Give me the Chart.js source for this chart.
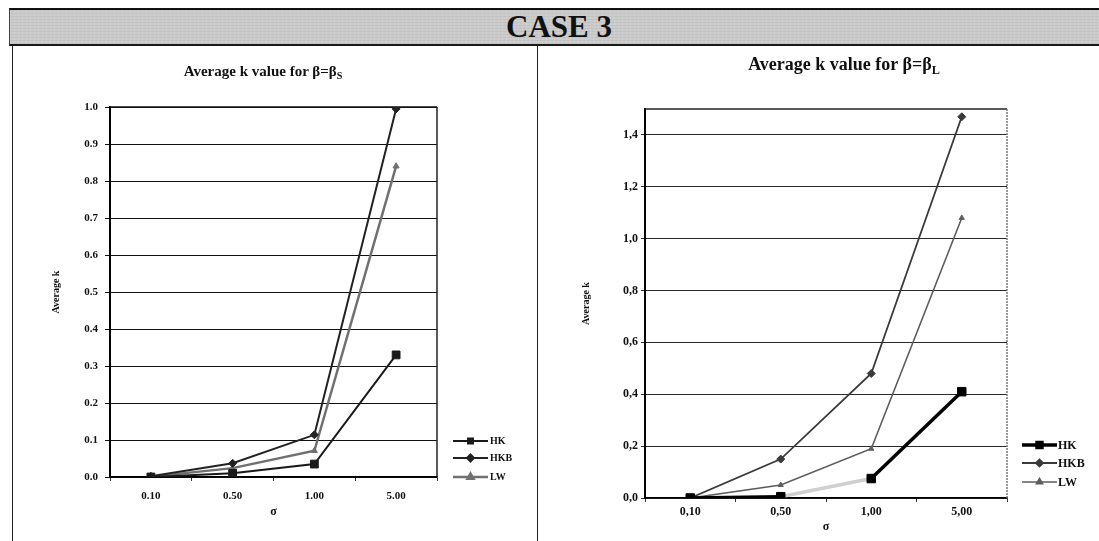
<!DOCTYPE html>
<html>
<head>
<meta charset="utf-8">
<script src="https://cdn.jsdelivr.net/npm/chart.js@4.4.1/dist/chart.umd.min.js"></script>
<style>
  html, body { margin: 0; padding: 0; background: #fff; }
  body { width: 1099px; height: 541px; position: relative; overflow: hidden;
         font-family: "Liberation Serif", "Times New Roman", serif; color: #111; }
  #band { position: absolute; left: 9px; top: 8px; width: 1090px; height: 34px;
          border-top: 2px solid #111; border-bottom: 2px solid #1a1a1a; border-left: 1px solid #444;
          background-color: #cbcbcb;
          background-image: repeating-linear-gradient(90deg, rgba(255,255,255,0.10) 0 1px, rgba(0,0,0,0) 1px 4px),
                            repeating-linear-gradient(0deg, rgba(0,0,0,0.05) 0 1px, rgba(0,0,0,0) 1px 3px); }
  #caseTitle { position: absolute; left: 359px; top: 10px; width: 400px; text-align: center;
               font-weight: bold; font-size: 31px; line-height: 34px; color: #111; }
  .panel { position: absolute; top: 46px; height: 495px; }
  #panelS { left: 12px; width: 524px; border-left: 1px solid #222; border-right: 1px solid #222; }
  #panelL { left: 538px; width: 561px; }
  .chartBox { position: absolute; left: 0; top: 0; width: 100%; height: 100%; }
  .ctitle { position: absolute; text-align: center; font-weight: bold; color: #111; white-space: nowrap; }
  .ctitle sub { font-size: 0.68em; vertical-align: -0.3em; line-height: 0; }
  #titleS { left: 63px; width: 400px; top: 62px; font-size: 15px; line-height: 18px; }
  #titleL { left: 644px; width: 400px; top: 54px; font-size: 18px; line-height: 21px; }
</style>
</head>
<body>
<div id="band"></div>
<div id="caseTitle">CASE 3</div>
<div class="panel" id="panelS"><div class="chartBox"><canvas id="chartS"></canvas></div></div>
<div class="panel" id="panelL"><div class="chartBox"><canvas id="chartL"></canvas></div></div>
<div class="ctitle" id="titleS">Average k value for β=β<sub>S</sub></div>
<div class="ctitle" id="titleL">Average k value for β=β<sub>L</sub></div>

<script>
// Noise levels (σ) on the category axis
const sigmaLabelsS = ['0.10', '0.50', '1.00', '5.00'];
const sigmaLabelsL = ['0,10', '0,50', '1,00', '5,00'];

// Series names
const seriesNames = ['HK', 'HKB', 'LW'];

// Average k for β = β_S
const hkS  = [0.000, 0.010, 0.035, 0.330];
const hkbS = [0.002, 0.037, 0.114, 0.995];
const lwS  = [0.001, 0.024, 0.071, 0.840];

// Average k for β = β_L
const hkL  = [0.000, 0.005, 0.075, 0.410];
const hkbL = [0.000, 0.150, 0.480, 1.470];
const lwL  = [0.000, 0.050, 0.190, 1.080];

// Value-axis tick labels
const yTicksS = ['0.0', '0.1', '0.2', '0.3', '0.4', '0.5', '0.6', '0.7', '0.8', '0.9', '1.0'];
const yTicksL = ['0,0', '0,2', '0,4', '0,6', '0,8', '1,0', '1,2', '1,4'];

const SERIF = '"Liberation Serif", "Times New Roman", serif';

// Box lines on the top and right of the plot area
const plotFrame = {
  id: 'plotFrame',
  beforeDatasetsDraw(chart, args, opts) {
    const { ctx, chartArea: a } = chart;
    ctx.save();
    ctx.strokeStyle = opts.topColor;
    ctx.lineWidth = opts.topWidth;
    ctx.beginPath();
    ctx.moveTo(a.left, a.top);
    ctx.lineTo(a.right, a.top);
    ctx.stroke();
    ctx.strokeStyle = opts.rightColor;
    ctx.lineWidth = opts.rightWidth;
    ctx.setLineDash(opts.rightDash || []);
    ctx.beginPath();
    ctx.moveTo(a.right, a.top);
    ctx.lineTo(a.right, a.bottom);
    ctx.stroke();
    ctx.restore();
  }
};

// Spreadsheet-style legend: a short line with the marker in its middle, then the name
const sideLegend = {
  id: 'sideLegend',
  afterDraw(chart, args, opts) {
    const { ctx, chartArea: a } = chart;
    ctx.save();
    chart.data.datasets.forEach((ds, i) => {
      const y = a.bottom - opts.rows[i];
      const x0 = a.right + opts.lineStart;
      const x1 = a.right + opts.lineEnd;
      ctx.strokeStyle = ds.borderColor;
      ctx.lineWidth = ds.borderWidth;
      ctx.beginPath();
      ctx.moveTo(x0, y);
      ctx.lineTo(x1, y);
      ctx.stroke();
      ctx.fillStyle = ds.pointBackgroundColor;
      ctx.strokeStyle = ds.pointBorderColor;
      Chart.helpers.drawPoint(ctx, {
        pointStyle: ds.pointStyle, radius: opts.markerRadius, rotation: 0, borderWidth: 1
      }, (x0 + x1) / 2, y);
      ctx.fillStyle = '#111';
      ctx.font = opts.font;
      ctx.textAlign = 'left';
      ctx.textBaseline = 'middle';
      ctx.fillText(ds.label, a.right + opts.textStart, y + 0.5);
    });
    ctx.restore();
  }
};

function series(label, data, color, width, style, radius, extra) {
  return Object.assign({
    label, data,
    borderColor: color, borderWidth: width,
    pointStyle: style, pointRadius: radius,
    pointBackgroundColor: color, pointBorderColor: color, pointBorderWidth: 1,
    tension: 0, fill: false
  }, extra || {});
}

function buildChart(id, p) {
  return new Chart(document.getElementById(id), {
    type: 'line',
    data: { labels: p.labels, datasets: p.datasets },
    options: {
      responsive: true,
      maintainAspectRatio: false,
      animation: false,
      events: [],
      layout: { padding: p.padding },
      plugins: {
        legend: { display: false },
        tooltip: { enabled: false },
        title: { display: false },
        plotFrame: p.frame,
        sideLegend: p.legend
      },
      scales: {
        x: {
          type: 'category',
          offset: true,
          grid: { drawOnChartArea: false, drawTicks: true, tickLength: 4, offset: true, color: '#333', lineWidth: 1 },
          border: { display: true, color: '#000', width: 1.5 },
          ticks: { color: '#111', padding: p.xTickPad, font: { family: SERIF, size: p.xTickSize, weight: 'bold' } },
          title: { display: true, text: 'σ', color: '#111', padding: { top: 0, bottom: 1 },
                   font: { family: SERIF, size: 12, weight: 'bold' } },
          afterFit(scale) { scale.height = p.xHeight; }
        },
        y: {
          min: 0,
          max: p.yMax,
          ticks: {
            stepSize: p.yStep,
            color: '#111',
            padding: p.yTickPad,
            font: { family: SERIF, size: p.yTickSize, weight: 'bold' },
            callback: (v, i) => p.yLabels[i]
          },
          afterBuildTicks(scale) {
            scale.ticks = scale.ticks.filter(t => t.value <= p.yTop + 1e-9);
          },
          grid: { color: p.gridColor, lineWidth: 1, drawTicks: true, tickLength: p.yTickLen },
          border: { display: true, color: '#000', width: 2 },
          title: { display: true, text: 'Average k', color: '#111', padding: { top: 0, bottom: 0 },
                   font: { family: SERIF, size: 10, weight: 'bold' } },
          afterFit(scale) { scale.width = p.yWidth; }
        }
      }
    },
    plugins: [plotFrame, sideLegend]
  });
}

buildChart('chartS', {
  labels: sigmaLabelsS,
  datasets: [
    series(seriesNames[0], hkS,  '#1a1a1a', 2,   'rect',     5.5),
    series(seriesNames[1], hkbS, '#222222', 2,   'rectRot',  4),
    series(seriesNames[2], lwS,  '#707070', 2.5, 'triangle', 3.5)
  ],
  padding: { left: 37, right: 100, top: 61, bottom: 21 },
  yWidth: 60, xHeight: 43,
  yMax: 1.0, yTop: 1.0, yStep: 0.1, yLabels: yTicksS,
  yTickPad: 7, yTickLen: 5, yTickSize: 11,
  xTickPad: 9, xTickSize: 11,
  gridColor: '#111',
  frame: { topColor: '#111', topWidth: 1.5, rightColor: '#222', rightWidth: 1.5 },
  legend: { rows: [36, 19, 0], lineStart: 16, lineEnd: 51, textStart: 53, markerRadius: 3.5,
            font: 'bold 10px ' + SERIF }
});

buildChart('chartL', {
  labels: sigmaLabelsL,
  datasets: [
    // the HK stretch from 0,50 to 1,00 is printed faint
    series(seriesNames[0], hkL,  '#000000', 3.5, 'rect',     6,
           { segment: { borderColor: c => (c.p0DataIndex === 1 ? '#cfcfcf' : undefined) } }),
    series(seriesNames[1], hkbL, '#3a3a3a', 1.8, 'rectRot',  4),
    series(seriesNames[2], lwL,  '#5c5c5c', 1.6, 'triangle', 3)
  ],
  padding: { left: 42, right: 92, top: 63, bottom: 6 },
  yWidth: 65, xHeight: 37,
  yMax: 1.5, yTop: 1.4, yStep: 0.2, yLabels: yTicksL,
  yTickPad: 3, yTickLen: 4, yTickSize: 12,
  xTickPad: 3, xTickSize: 12,
  gridColor: '#2a2a2a',
  frame: { topColor: '#222', topWidth: 1.5, rightColor: '#777', rightWidth: 1.5, rightDash: [2, 1] },
  legend: { rows: [53, 35, 16], lineStart: 15, lineEnd: 50, textStart: 51, markerRadius: 3.5,
            font: 'bold 12px ' + SERIF }
});
</script>
</body>
</html>
